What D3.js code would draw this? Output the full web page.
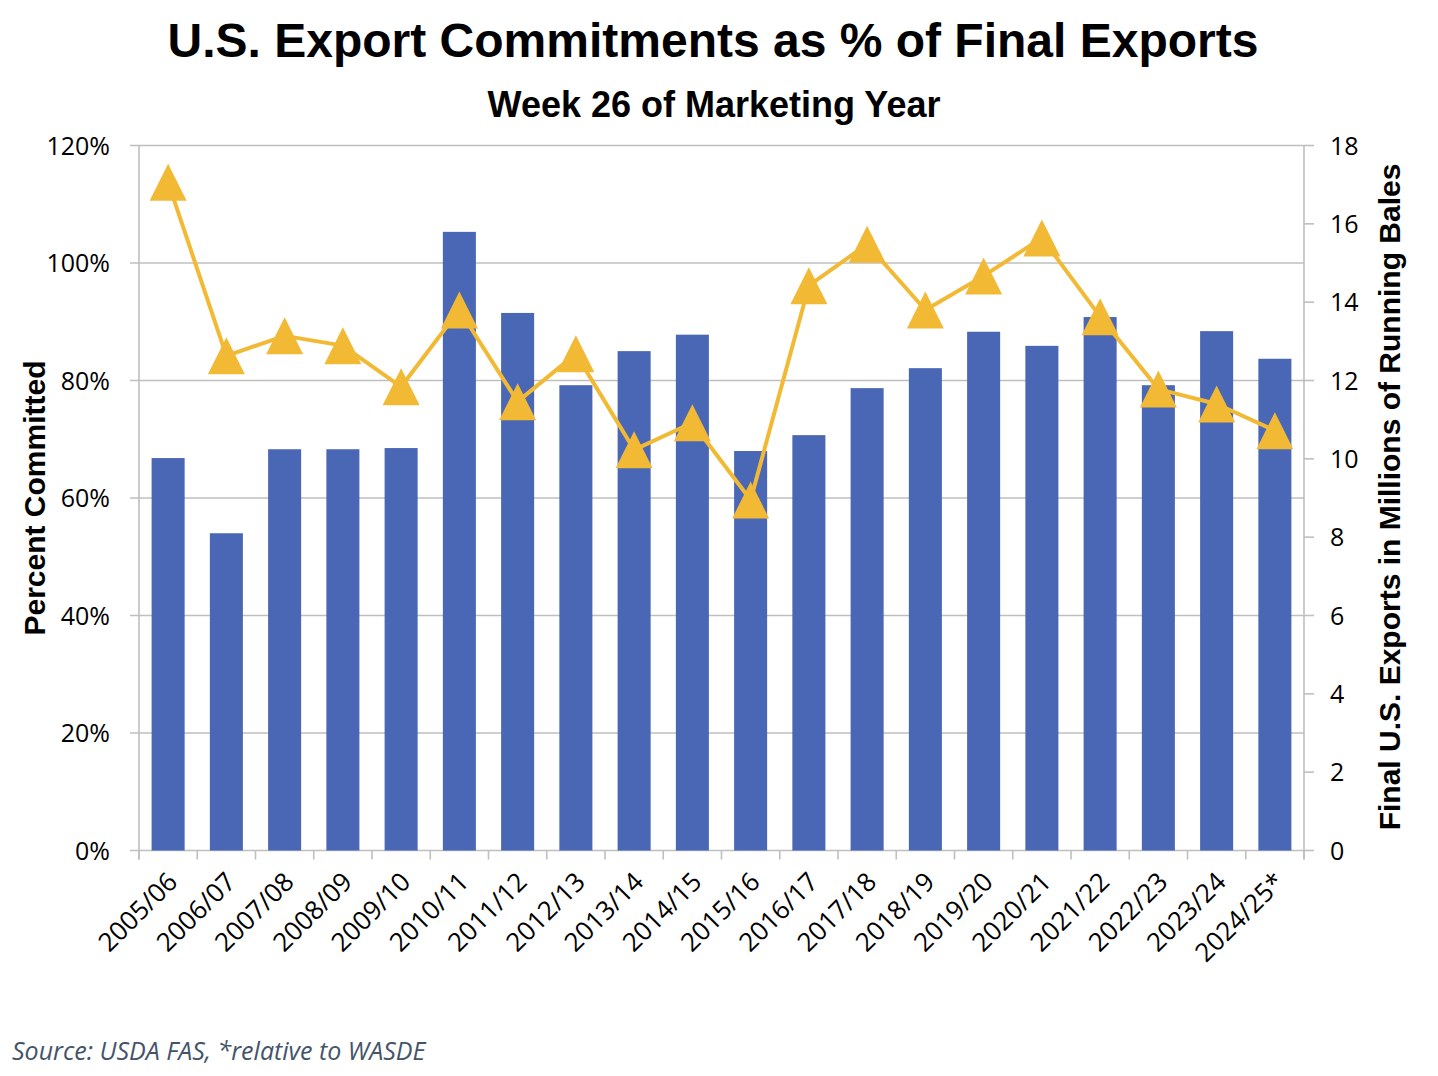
<!DOCTYPE html>
<html>
<head>
<meta charset="utf-8">
<script src="https://cdn.jsdelivr.net/npm/d3@7"></script>
<style>
  html, body { margin: 0; padding: 0; background: #ffffff; }
  svg { display: block; }
</style>
</head>
<body>
<svg id="chart" width="1438" height="1076"></svg>
<script>
const categories = ["2005/06","2006/07","2007/08","2008/09","2009/10","2010/11","2011/12","2012/13","2013/14","2014/15","2015/16","2016/17","2017/18","2018/19","2019/20","2020/21","2021/22","2022/23","2023/24","2024/25*"];
const percentCommitted = [66.8, 54.0, 68.3, 68.3, 68.5, 105.3, 91.5, 79.2, 85.0, 87.8, 68.0, 70.7, 78.7, 82.1, 88.3, 85.9, 90.8, 79.2, 88.4, 83.7];
const finalExports = [17.06, 12.63, 13.14, 12.89, 11.84, 13.80, 11.46, 12.68, 10.23, 10.92, 8.95, 14.42, 15.48, 13.80, 14.67, 15.64, 13.63, 11.78, 11.40, 10.72];
const leftTicks = [0, 20, 40, 60, 80, 100, 120];
const rightTicks = [0, 2, 4, 6, 8, 10, 12, 14, 16, 18];

const title = "U.S. Export Commitments as % of Final Exports";
const subtitle = "Week 26 of Marketing Year";
const leftTitle = "Percent Committed";
const rightTitle = "Final U.S. Exports in Millions of Running Bales";
const source = "Source: USDA FAS, *relative to WASDE";

const barColor = "#4A67B5";
const lineColor = "#F2B935";
const gridColor = "#BFBFBF";
const tickFont = "'Open Sans', sans-serif";
const boldFont = "'Liberation Sans', Arial, sans-serif";

const svg = d3.select("#chart");
const L = 139, R = 1304, T = 145.5, B = 850.5;

const x = d3.scaleBand().domain(categories).range([L, R]).paddingInner(0.433).paddingOuter(0.2165);
const yL = d3.scaleLinear().domain([0, 120]).range([B, T]);
const yR = d3.scaleLinear().domain([0, 18]).range([B, T]);

// gridlines (extend left as ticks)
svg.append("g").selectAll("line").data(leftTicks).join("line")
  .attr("x1", L - 9).attr("x2", R)
  .attr("y1", d => yL(d)).attr("y2", d => yL(d))
  .attr("stroke", gridColor).attr("stroke-width", 1.6);

// axis lines
svg.append("line").attr("x1", L).attr("x2", L).attr("y1", T).attr("y2", B + 9)
  .attr("stroke", gridColor).attr("stroke-width", 1.6);
svg.append("line").attr("x1", R).attr("x2", R).attr("y1", T).attr("y2", B + 9)
  .attr("stroke", gridColor).attr("stroke-width", 1.6);

// right axis ticks
svg.append("g").selectAll("line").data(rightTicks).join("line")
  .attr("x1", R).attr("x2", R + 10)
  .attr("y1", d => yR(d)).attr("y2", d => yR(d))
  .attr("stroke", gridColor).attr("stroke-width", 1.6);

// bottom category boundary ticks
const boundaries = d3.range(categories.length + 1);
svg.append("g").selectAll("line").data(boundaries).join("line")
  .attr("x1", i => L + i * x.step())
  .attr("x2", i => L + i * x.step())
  .attr("y1", B).attr("y2", B + 9)
  .attr("stroke", gridColor).attr("stroke-width", 1.6);

// left tick labels
svg.append("g").selectAll("text").data(leftTicks).join("text")
  .attr("x", 110).attr("y", d => yL(d))
  .attr("dy", "0.36em")
  .attr("text-anchor", "end")
  .attr("font-family", tickFont).attr("font-size", 25).attr("fill", "#000")
  .text(d => d + "%");

// right tick labels
svg.append("g").selectAll("text").data(rightTicks).join("text")
  .attr("x", 1330).attr("y", d => yR(d))
  .attr("dy", "0.36em")
  .attr("text-anchor", "start")
  .attr("font-family", tickFont).attr("font-size", 25).attr("fill", "#000")
  .text(d => d);

// bars
svg.append("g").selectAll("rect").data(categories).join("rect")
  .attr("x", d => x(d)).attr("width", x.bandwidth())
  .attr("y", (d, i) => yL(percentCommitted[i]))
  .attr("height", (d, i) => B - yL(percentCommitted[i]))
  .attr("fill", barColor);

// line
const cx = d => x(d) + x.bandwidth() / 2;
const line = d3.line().x((d, i) => cx(categories[i])).y(d => yR(d));
svg.append("path").datum(finalExports)
  .attr("d", line)
  .attr("fill", "none").attr("stroke", lineColor).attr("stroke-width", 4)
  .attr("stroke-linejoin", "round");

// triangle markers
const h = 18.5;
svg.append("g").selectAll("path").data(finalExports).join("path")
  .attr("transform", (d, i) => `translate(${cx(categories[i])},${yR(d)})`)
  .attr("d", `M0,${-h}L${h},${h}L${-h},${h}Z`)
  .attr("fill", lineColor);

// x labels
svg.append("g").selectAll("text").data(categories).join("text")
  .attr("transform", d => `translate(${cx(d) + 11},${B + 33}) rotate(-45)`)
  .attr("text-anchor", "end")
  .attr("font-family", tickFont).attr("font-size", 26).attr("fill", "#000")
  .text(d => d);

// titles
svg.append("text").attr("x", 713).attr("y", 57).attr("text-anchor", "middle")
  .attr("font-family", boldFont).attr("font-weight", "bold").attr("font-size", 48)
  .text(title);
svg.append("text").attr("x", 714).attr("y", 117).attr("text-anchor", "middle")
  .attr("font-family", boldFont).attr("font-weight", "bold").attr("font-size", 36)
  .text(subtitle);

svg.append("text")
  .attr("transform", `translate(45, 498) rotate(-90)`)
  .attr("text-anchor", "middle")
  .attr("font-family", boldFont).attr("font-weight", "bold").attr("font-size", 30)
  .text(leftTitle);
svg.append("text")
  .attr("transform", `translate(1400, 497) rotate(-90)`)
  .attr("text-anchor", "middle")
  .attr("font-family", boldFont).attr("font-weight", "bold").attr("font-size", 30)
  .text(rightTitle);

svg.append("text").attr("x", 12).attr("y", 1060)
  .attr("font-family", tickFont).attr("font-style", "italic").attr("font-size", 25)
  .attr("fill", "#44546A")
  .text(source);
</script>
</body>
</html>
